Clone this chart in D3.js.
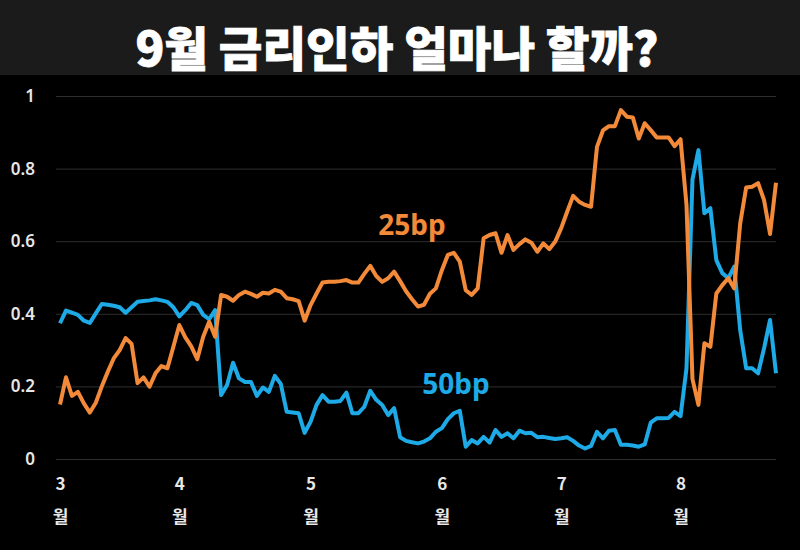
<!DOCTYPE html>
<html><head><meta charset="utf-8">
<script src="https://cdn.jsdelivr.net/npm/d3@7"></script>
<style>
html,body{margin:0;padding:0;background:#000;}
svg{display:block;}
</style></head>
<body>
<script>
const title = "9월 금리인하 얼마나 할까?";
const monthLabels = ["3","4","5","6","7","8"];
const monthUnit = "월";
const monthTickIdx = [0, 20, 42, 64, 84, 104];
const yTicks = [0, 0.2, 0.4, 0.6, 0.8, 1];
const yTickLabels = ["0","0.2","0.4","0.6","0.8","1"];
const seriesNames = ["25bp","50bp"];

const bp25 = [
0.15,0.225,0.174,0.185,0.153,0.128,0.155,0.20,0.24,0.277,
0.30,0.333,0.317,0.209,0.225,0.199,0.236,0.256,0.25,0.309,
0.369,0.335,0.31,0.275,0.337,0.378,0.337,0.452,0.447,0.436,
0.452,0.461,0.455,0.447,0.458,0.456,0.466,0.461,0.443,0.44,
0.435,0.381,0.424,0.456,0.486,0.488,0.488,0.49,0.493,0.486,
0.486,0.51,0.532,0.504,0.488,0.498,0.516,0.49,0.462,0.44,
0.42,0.425,0.455,0.47,0.52,0.562,0.568,0.544,0.465,0.452,
0.47,0.608,0.617,0.622,0.568,0.617,0.576,0.592,0.605,0.596,
0.571,0.594,0.578,0.599,0.636,0.681,0.725,0.709,0.70,0.695,
0.86,0.905,0.917,0.917,0.961,0.943,0.941,0.883,0.925,0.906,
0.886,0.886,0.886,0.862,0.881,0.70,0.22,0.149,0.319,0.309,
0.456,0.479,0.498,0.47,0.649,0.748,0.75,0.76,0.713,0.62,
0.761
];
const bp50 = [
0.374,0.409,0.403,0.397,0.381,0.375,0.401,0.427,0.425,0.422,
0.418,0.403,0.418,0.433,0.435,0.437,0.44,0.437,0.433,0.418,
0.393,0.41,0.43,0.424,0.397,0.385,0.41,0.176,0.204,0.265,
0.222,0.212,0.212,0.174,0.197,0.185,0.229,0.207,0.13,0.128,
0.126,0.072,0.103,0.149,0.176,0.158,0.158,0.16,0.183,0.126,
0.126,0.144,0.188,0.163,0.149,0.121,0.14,0.06,0.05,0.046,
0.043,0.048,0.057,0.075,0.085,0.11,0.126,0.133,0.034,0.052,
0.043,0.061,0.045,0.08,0.061,0.071,0.057,0.078,0.071,0.072,
0.06,0.061,0.058,0.055,0.057,0.06,0.05,0.037,0.029,0.036,
0.075,0.057,0.078,0.08,0.039,0.039,0.037,0.034,0.04,0.10,
0.112,0.112,0.113,0.13,0.118,0.25,0.77,0.851,0.677,0.691,
0.548,0.512,0.498,0.53,0.355,0.25,0.25,0.236,0.305,0.383,
0.236
];

const W = 800, H = 550;
const colors = {orange:"#F28A3A", blue:"#1DAAE6"};

const svg = d3.select("body").append("svg").attr("width", W).attr("height", H);
svg.append("rect").attr("width", W).attr("height", H).attr("fill", "#000");
svg.append("rect").attr("width", W).attr("height", 75).attr("fill", "#1b1b1b");

svg.append("text").attr("x", 397).attr("y", 66)
  .attr("text-anchor","middle")
  .attr("font-family","'Noto Sans CJK KR', sans-serif")
  .attr("font-weight", 900)
  .attr("font-size", 47)
  .attr("fill","#fff")
  .attr("stroke","#fff").attr("stroke-width",0.8)
  .attr("textLength", 523).attr("lengthAdjust","spacingAndGlyphs")
  .text(title);

const x = d3.scaleLinear().domain([0, bp25.length - 1]).range([60, 776]);
const y = d3.scaleLinear().domain([0, 1]).range([459, 96]);

// grid + y labels
const yAxis = d3.axisLeft(y).tickValues(yTicks)
  .tickSize(-(776 - 56)).tickPadding(21)
  .tickFormat((d,i) => yTickLabels[i]);
const gy = svg.append("g").attr("transform","translate(56,0)").call(yAxis);
gy.select(".domain").remove();
gy.selectAll(".tick line").attr("stroke","#2e2e2e").attr("stroke-width",1);
gy.selectAll(".tick text").attr("fill","#e6e6e6")
  .attr("font-family","'Noto Sans', sans-serif").attr("font-weight",600).attr("font-size",17);

// x labels
const xAxis = d3.axisBottom(x).tickValues(monthTickIdx).tickSize(0).tickPadding(0)
  .tickFormat((d,i) => monthLabels[i]);
const gx = svg.append("g").attr("transform","translate(0,478)").call(xAxis);
gx.select(".domain").remove();
gx.selectAll(".tick text").attr("fill","#e8e8e8")
  .attr("font-family","'Noto Sans CJK KR', sans-serif").attr("font-weight",700).attr("font-size",17)
  .attr("dy","0.71em");
gx.selectAll(".tick").append("text")
  .attr("y", 33).attr("dy","0.71em")
  .attr("fill","#e8e8e8").attr("text-anchor","middle")
  .attr("font-family","'Noto Sans CJK KR', sans-serif").attr("font-weight",700).attr("font-size",17)
  .text(monthUnit);

const line = d3.line().x((d,i) => x(i)).y(d => y(d));
svg.append("path").datum(bp50).attr("d", line).attr("fill","none")
  .attr("stroke", colors.blue).attr("stroke-width",4).attr("stroke-linejoin","round");
svg.append("path").datum(bp25).attr("d", line).attr("fill","none")
  .attr("stroke", colors.orange).attr("stroke-width",4).attr("stroke-linejoin","round");

svg.append("text").attr("x", 412).attr("y", 235).attr("text-anchor","middle")
  .attr("font-family","'Noto Sans', sans-serif").attr("font-weight",700).attr("font-size",28)
  .attr("fill", colors.orange).text(seriesNames[0]);
svg.append("text").attr("x", 456).attr("y", 394).attr("text-anchor","middle")
  .attr("font-family","'Noto Sans', sans-serif").attr("font-weight",700).attr("font-size",28)
  .attr("fill", colors.blue).text(seriesNames[1]);
</script>
</body></html>
